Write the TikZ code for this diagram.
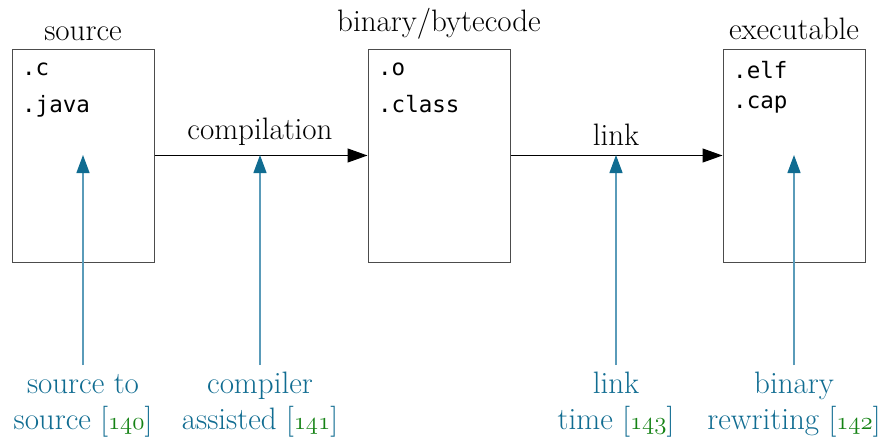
\documentclass[tikz,border=0pt]{standalone}
\usepackage{fontspec}
\setmonofont{DejaVu Sans Mono}
\usetikzlibrary{arrows.meta}
\definecolor{lblue}{RGB}{16,108,145}
\definecolor{lshaft}{RGB}{90,155,185}
\definecolor{cgreen}{RGB}{20,130,20}
\newcommand{\osn}[1]{{\color{cgreen}\fontsize{36}{36}\usefont{OML}{cmm}{m}{it}#1}}
\begin{document}
\begin{tikzpicture}[x=1pt,y=-1pt,
  stage/.style={draw=black!70,line width=1pt,minimum width=142pt,minimum height=213pt,inner sep=0pt},
  title/.style={font=\fontsize{31}{36}\selectfont,inner sep=0pt,anchor=base},
  ext/.style={font=\ttfamily\fontsize{22.5}{26}\selectfont,inner sep=0pt,anchor=base west},
  flow/.style={line width=1.1pt,-{Triangle[length=20pt,width=14pt]}},
  hook/.style={draw=lshaft,line width=1.3pt,-{Triangle[length=18pt,width=13pt,color=lblue]}},
  tech/.style={font=\fontsize{31}{36}\selectfont,text=lblue,align=center,inner sep=0pt,anchor=base},
]
\useasboundingbox (0,0) rectangle (886,437);
\node[stage] (src) at (83,155.5) {};
\node[stage] (bin) at (439,155.5) {};
\node[stage] (exe) at (794,155.5) {};
\node[title] (tsrc) at (83,40) {source};
\node[title] (tbin) at (439,31) {binary/bytecode};
\node[title] (texe) at (794,39) {executable};
\node[ext] (c) at (22,75) {.c};
\node[ext] (java) at (22,112) {.java};
\node[ext] (o) at (378,75) {.o};
\node[ext] (class) at (378,112) {.class};
\node[ext] (elf) at (733,78) {.elf};
\node[ext] (cap) at (733,108) {.cap};
\draw[flow] (src.east) -- (bin.west);
\draw[flow] (bin.east) -- (exe.west);
\node[title] (comp) at (260,139) {compilation};
\node[title] (link) at (616,145) {link};
\node[tech] (s2s) at (83,429) {source to\\source [\osn{140}]};
\node[tech] (ca) at (260,429) {compiler\\assisted [\osn{141}]};
\node[tech] (lt) at (616,429) {link\\time [\osn{143}]};
\node[tech] (br) at (794,429) {binary\\rewriting [\osn{142}]};
\coordinate (p1) at (83,155);
\coordinate (p2) at (260,155);
\coordinate (p3) at (616,155);
\coordinate (p4) at (794,155);
\coordinate (q1) at (83,365);
\coordinate (q2) at (260,365);
\coordinate (q3) at (616,365);
\coordinate (q4) at (794,365);
\draw[hook] (q1) -- (p1);
\draw[hook] (q2) -- (p2);
\draw[hook] (q3) -- (p3);
\draw[hook] (q4) -- (p4);
\end{tikzpicture}
\end{document}
